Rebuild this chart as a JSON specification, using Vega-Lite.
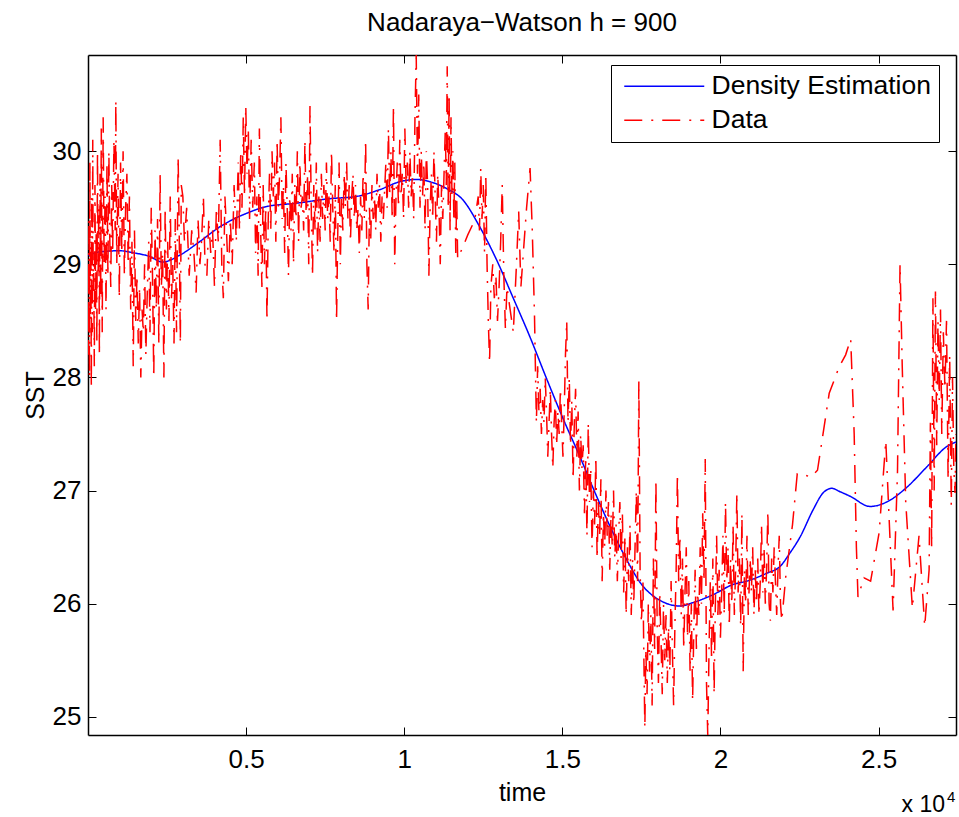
{
"$schema": "https://vega.github.io/schema/vega-lite/v6.json",
"width": 868, "height": 680,
"autosize": {"type": "none"},
"padding": {"left": 88, "top": 55, "right": 3, "bottom": 82},
"background": "white",
"title": {"text": "Nadaraya−Watson h = 900", "font": "Liberation Sans", "fontSize": 26, "fontWeight": "normal", "color": "black", "offset": 19, "anchor": "middle"},
"config": {
 "view": {"stroke": null},
 "axis": {"labelFont": "Liberation Sans", "titleFont": "Liberation Sans", "labelFontSize": 26, "titleFontSize": 25, "labelColor": "black", "titleColor": "black", "titleFontWeight": "normal", "domainColor": "black", "domainWidth": 1.5, "tickColor": "black", "tickWidth": 1, "tickSize": -8, "grid": false}
},
"datasets": {
 "curve": [
  {"t":0,"v":29.08},{"t":364,"v":29.11},{"t":997,"v":29.12},{"t":1472,"v":29.10},{"t":1946,"v":29.07},{"t":2358,"v":29.02},{"t":2896,"v":29.08},{"t":3529,"v":29.20},{"t":4162,"v":29.33},{"t":5007,"v":29.45},{"t":5640,"v":29.51},{"t":6590,"v":29.54},{"t":7643,"v":29.58},{"t":8488,"v":29.60},{"t":9226,"v":29.66},{"t":9859,"v":29.73},{"t":10388,"v":29.75},{"t":10808,"v":29.73},{"t":11337,"v":29.67},{"t":11853,"v":29.57},{"t":12392,"v":29.33},{"t":12920,"v":29.04},{"t":13435,"v":28.71},{"t":13974,"v":28.36},{"t":14502,"v":27.99},{"t":15018,"v":27.64},{"t":15556,"v":27.30},{"t":16084,"v":26.95},{"t":16600,"v":26.63},{"t":17034,"v":26.39},{"t":17455,"v":26.19},{"t":18088,"v":26.03},{"t":18721,"v":25.98},{"t":19132,"v":26.01},{"t":19765,"v":26.08},{"t":20398,"v":26.17},{"t":20832,"v":26.20},{"t":21465,"v":26.27},{"t":21886,"v":26.33},{"t":22202,"v":26.45},{"t":22519,"v":26.59},{"t":22930,"v":26.83},{"t":23247,"v":26.98},{"t":23522,"v":27.02},{"t":23785,"v":26.99},{"t":24102,"v":26.95},{"t":24735,"v":26.86},{"t":25263,"v":26.90},{"t":25896,"v":27.03},{"t":26529,"v":27.21},{"t":27162,"v":27.39},{"t":27450,"v":27.43}
 ],
 "obs": [
  {"t":0,"v":28.9},{"t":15,"v":28.2},{"t":30,"v":29.4},{"t":45,"v":28.0},{"t":60,"v":29.9},{"t":75,"v":28.5},{"t":90,"v":29.2},{"t":105,"v":27.9},{"t":120,"v":29.6},{"t":135,"v":28.4},{"t":150,"v":30.1},{"t":165,"v":28.8},{"t":180,"v":29.0},{"t":200,"v":28.1},{"t":220,"v":29.7},{"t":240,"v":28.6},{"t":260,"v":29.3},{"t":280,"v":28.3},{"t":300,"v":30.0},{"t":320,"v":28.9},{"t":340,"v":29.5},{"t":360,"v":28.2},{"t":380,"v":29.8},{"t":400,"v":28.7},{"t":420,"v":30.2},
  {"t":450,"v":28.4},{"t":480,"v":30.3},{"t":510,"v":29.0},{"t":540,"v":29.6},{"t":570,"v":28.6},{"t":600,"v":29.9},{"t":630,"v":28.9},{"t":660,"v":30.0},{"t":690,"v":29.2},{"t":720,"v":28.8},{"t":750,"v":29.7},{"t":780,"v":29.1},{"t":820,"v":30.1},{"t":860,"v":29.3},{"t":880,"v":30.45},{"t":910,"v":29.0},
  {"t":950,"v":29.8},{"t":990,"v":28.7},{"t":1030,"v":29.9},{"t":1070,"v":29.1},{"t":1110,"v":30.0},{"t":1150,"v":28.9},{"t":1190,"v":29.5},{"t":1230,"v":29.8},{"t":1270,"v":29.0},{"t":1310,"v":29.6},{"t":1350,"v":28.6},{"t":1390,"v":29.2},
  {"t":1430,"v":28.1},{"t":1470,"v":29.3},{"t":1510,"v":28.5},{"t":1550,"v":28.9},{"t":1590,"v":28.3},{"t":1630,"v":28.8},{"t":1670,"v":28.0},{"t":1710,"v":28.6},{"t":1750,"v":28.4},{"t":1790,"v":29.0},{"t":1830,"v":28.2},{"t":1870,"v":28.7},
  {"t":1920,"v":29.2},{"t":1960,"v":28.4},{"t":2000,"v":29.5},{"t":2040,"v":28.9},{"t":2080,"v":28.0},{"t":2120,"v":29.3},{"t":2160,"v":28.6},{"t":2200,"v":29.4},{"t":2240,"v":28.3},{"t":2280,"v":29.8},{"t":2320,"v":28.8},{"t":2360,"v":29.1},{"t":2400,"v":28.0},{"t":2440,"v":29.5},{"t":2480,"v":28.6},{"t":2520,"v":29.2},{"t":2560,"v":28.5},{"t":2600,"v":29.6},{"t":2640,"v":28.7},{"t":2680,"v":29.0},{"t":2720,"v":28.3},{"t":2760,"v":29.4},{"t":2800,"v":28.4},{"t":2850,"v":29.95},
  {"t":2880,"v":29.4},{"t":2920,"v":28.3},{"t":2950,"v":29.7},
  {"t":3000,"v":29.6},{"t":3050,"v":29.2},{"t":3120,"v":29.5},{"t":3200,"v":28.9},{"t":3280,"v":29.3},{"t":3350,"v":29.1},{"t":3420,"v":28.75},{"t":3480,"v":29.4},{"t":3540,"v":29.0},{"t":3590,"v":29.2},
  {"t":3650,"v":29.6},{"t":3700,"v":29.0},{"t":3760,"v":28.9},{"t":3820,"v":29.4},{"t":3880,"v":29.1},{"t":3940,"v":29.3},{"t":4000,"v":28.8},{"t":4060,"v":29.5},{"t":4120,"v":29.2},{"t":4180,"v":30.1},{"t":4230,"v":29.0},{"t":4280,"v":28.7},{"t":4330,"v":29.6},{"t":4380,"v":29.3},{"t":4440,"v":28.85},{"t":4500,"v":29.4},{"t":4560,"v":29.0},{"t":4620,"v":29.7},{"t":4690,"v":29.2},{"t":4750,"v":29.9},
  {"t":4790,"v":29.3},{"t":4830,"v":30.0},{"t":4870,"v":29.5},{"t":4910,"v":30.3},{"t":4950,"v":29.6},{"t":4990,"v":30.4},{"t":5030,"v":29.8},{"t":5070,"v":30.2},{"t":5110,"v":29.4},{"t":5160,"v":30.1},{"t":5210,"v":29.5},{"t":5260,"v":29.9},
  {"t":5300,"v":29.1},{"t":5340,"v":29.6},{"t":5380,"v":28.9},{"t":5420,"v":30.2},{"t":5460,"v":29.3},{"t":5500,"v":28.8},{"t":5540,"v":29.7},{"t":5580,"v":29.0},{"t":5620,"v":29.5},{"t":5660,"v":28.5},{"t":5700,"v":29.4},
  {"t":5740,"v":29.8},{"t":5780,"v":29.3},{"t":5820,"v":30.0},{"t":5860,"v":29.6},{"t":5900,"v":29.9},{"t":5940,"v":29.2},{"t":5980,"v":30.1},{"t":6020,"v":29.5},{"t":6060,"v":29.8},{"t":6100,"v":30.3},{"t":6140,"v":29.4},{"t":6180,"v":29.7},{"t":6220,"v":29.1},{"t":6260,"v":29.9},{"t":6300,"v":29.5},{"t":6340,"v":28.9},{"t":6380,"v":29.6},{"t":6420,"v":29.3},{"t":6460,"v":29.8},{"t":6500,"v":29.0},{"t":6540,"v":29.7},{"t":6580,"v":29.4},{"t":6620,"v":30.0},{"t":6660,"v":29.2},{"t":6700,"v":29.9},{"t":6740,"v":29.5},{"t":6780,"v":29.6},{"t":6820,"v":29.3},{"t":6860,"v":30.1},
  {"t":6900,"v":29.4},{"t":6940,"v":29.8},{"t":6980,"v":29.0},{"t":7020,"v":30.4},{"t":7060,"v":29.5},{"t":7100,"v":28.9},{"t":7140,"v":29.7},{"t":7180,"v":29.3},{"t":7220,"v":29.9},{"t":7260,"v":29.1},{"t":7300,"v":29.6},{"t":7340,"v":29.2},{"t":7380,"v":29.8},{"t":7420,"v":29.4},{"t":7460,"v":29.7},
  {"t":7500,"v":29.3},{"t":7540,"v":29.9},{"t":7580,"v":29.4},{"t":7620,"v":29.6},{"t":7660,"v":29.2},{"t":7700,"v":30.0},{"t":7740,"v":29.5},{"t":7780,"v":29.1},{"t":7820,"v":29.7},{"t":7860,"v":28.5},{"t":7900,"v":29.3},{"t":7940,"v":29.9},{"t":7980,"v":29.0},{"t":8020,"v":29.6},{"t":8060,"v":29.3},{"t":8100,"v":29.8},{"t":8140,"v":29.5},{"t":8180,"v":29.9},{"t":8220,"v":29.4},{"t":8260,"v":29.7},{"t":8300,"v":29.2},{"t":8340,"v":29.6},{"t":8380,"v":29.8},{"t":8420,"v":29.4},{"t":8460,"v":29.7},{"t":8500,"v":29.3},{"t":8540,"v":29.5},{"t":8580,"v":29.1},{"t":8620,"v":29.6},
  {"t":8660,"v":29.3},{"t":8700,"v":29.8},{"t":8740,"v":29.4},{"t":8780,"v":30.1},{"t":8820,"v":29.0},{"t":8860,"v":28.6},{"t":8900,"v":29.5},{"t":8940,"v":29.2},{"t":8980,"v":29.7},{"t":9020,"v":29.4},{"t":9060,"v":29.6},{"t":9100,"v":29.3},{"t":9140,"v":29.8},{"t":9180,"v":29.5},{"t":9220,"v":29.7},{"t":9260,"v":29.2},{"t":9300,"v":29.6},{"t":9340,"v":29.4},
  {"t":9420,"v":29.9},{"t":9460,"v":29.5},{"t":9500,"v":30.2},{"t":9540,"v":29.6},{"t":9580,"v":30.0},{"t":9620,"v":29.4},{"t":9660,"v":30.4},{"t":9700,"v":29.0},{"t":9740,"v":29.6},{"t":9780,"v":29.9},{"t":9820,"v":29.5},{"t":9860,"v":30.1},{"t":9900,"v":29.6},{"t":9940,"v":29.8},{"t":9980,"v":29.4},{"t":10020,"v":30.2},{"t":10060,"v":29.7},{"t":10100,"v":29.9},{"t":10140,"v":29.5},{"t":10180,"v":30.0},{"t":10220,"v":29.6},{"t":10260,"v":29.8},{"t":10300,"v":29.4},
  {"t":10340,"v":30.3},{"t":10380,"v":30.85},{"t":10420,"v":29.8},{"t":10460,"v":30.5},{"t":10500,"v":29.5},{"t":10540,"v":30.0},
  {"t":10580,"v":29.6},{"t":10620,"v":29.9},{"t":10660,"v":29.3},{"t":10700,"v":30.0},{"t":10740,"v":29.7},{"t":10780,"v":28.9},{"t":10820,"v":29.5},{"t":10860,"v":29.8},{"t":10900,"v":29.4},{"t":10940,"v":30.0},{"t":10980,"v":29.6},{"t":11020,"v":29.2},{"t":11060,"v":29.8},{"t":11100,"v":29.5},{"t":11140,"v":29.0},{"t":11180,"v":29.7},{"t":11220,"v":29.4},{"t":11260,"v":29.8},
  {"t":11300,"v":30.2},{"t":11330,"v":29.7},{"t":11360,"v":30.75},{"t":11390,"v":29.5},{"t":11420,"v":30.5},{"t":11450,"v":29.3},{"t":11480,"v":30.3},{"t":11510,"v":29.6},{"t":11540,"v":30.0},{"t":11570,"v":29.4},{"t":11600,"v":29.9},{"t":11630,"v":29.1},{"t":11660,"v":29.6},{"t":11690,"v":29.05},
  {"t":11850,"v":29.15},{"t":12010,"v":29.26},{"t":12230,"v":29.39},
  {"t":12340,"v":29.6},{"t":12380,"v":29.3},{"t":12420,"v":29.85},{"t":12460,"v":29.4},{"t":12500,"v":29.7},{"t":12540,"v":29.1},{"t":12580,"v":29.8},{"t":12620,"v":29.0},{"t":12660,"v":28.5},{"t":12700,"v":28.13},{"t":12740,"v":28.8},
  {"t":12800,"v":29.0},{"t":12850,"v":28.7},{"t":12900,"v":28.9},{"t":12950,"v":28.5},{"t":13000,"v":28.8},{"t":13050,"v":29.2},{"t":13100,"v":29.7},{"t":13150,"v":28.9},{"t":13200,"v":28.43},{"t":13250,"v":28.8},
  {"t":13350,"v":28.6},{"t":13450,"v":28.4},{"t":13550,"v":29.0},{"t":13620,"v":29.47},{"t":13690,"v":28.8},
  {"t":13870,"v":29.5},{"t":13980,"v":29.85},{"t":14050,"v":29.3},{"t":14120,"v":28.55},
  {"t":14180,"v":27.6},{"t":14220,"v":28.1},{"t":14260,"v":27.7},{"t":14300,"v":27.9},{"t":14340,"v":27.5},{"t":14380,"v":27.8},{"t":14420,"v":27.6},{"t":14460,"v":28.0},{"t":14500,"v":27.7},{"t":14540,"v":27.3},{"t":14580,"v":27.6},{"t":14620,"v":27.9},{"t":14660,"v":27.5},{"t":14700,"v":27.2},{"t":14740,"v":27.6},{"t":14780,"v":27.8},{"t":14820,"v":27.4},{"t":14860,"v":27.7},{"t":14900,"v":27.5},{"t":14940,"v":27.9},{"t":14980,"v":27.6},{"t":15020,"v":27.3},{"t":15060,"v":27.7},
  {"t":15100,"v":28.2},{"t":15140,"v":28.5},{"t":15180,"v":27.6},{"t":15220,"v":28.0},{"t":15260,"v":27.4},{"t":15300,"v":27.8},{"t":15340,"v":27.1},{"t":15380,"v":27.6},{"t":15420,"v":27.9},{"t":15460,"v":27.3},{"t":15500,"v":27.7},{"t":15540,"v":27.0},{"t":15580,"v":27.5},{"t":15620,"v":27.2},
  {"t":15660,"v":27.4},{"t":15700,"v":26.8},{"t":15740,"v":27.3},{"t":15780,"v":26.6},{"t":15820,"v":27.6},{"t":15860,"v":26.9},{"t":15900,"v":27.2},{"t":15940,"v":26.5},{"t":15980,"v":27.0},{"t":16020,"v":26.7},{"t":16060,"v":27.3},{"t":16100,"v":26.4},{"t":16140,"v":26.9},{"t":16180,"v":26.6},{"t":16220,"v":27.1},{"t":16260,"v":26.2},{"t":16300,"v":26.8},{"t":16340,"v":26.5},{"t":16380,"v":27.0},{"t":16420,"v":26.6},{"t":16460,"v":26.9},{"t":16500,"v":26.3},{"t":16540,"v":26.8},{"t":16580,"v":26.5},{"t":16620,"v":27.0},{"t":16660,"v":26.4},{"t":16700,"v":26.7},{"t":16740,"v":26.2},{"t":16780,"v":26.6},{"t":16820,"v":26.9},{"t":16860,"v":26.4},
  {"t":16900,"v":26.8},{"t":16940,"v":26.1},{"t":16980,"v":26.6},{"t":17020,"v":25.9},{"t":17060,"v":26.5},{"t":17100,"v":26.2},{"t":17140,"v":26.7},{"t":17180,"v":25.9},{"t":17220,"v":26.4},{"t":17260,"v":26.0},{"t":17300,"v":26.5},{"t":17340,"v":27.0},{"t":17380,"v":26.2},{"t":17420,"v":27.97},{"t":17460,"v":26.3},{"t":17500,"v":25.83},
  {"t":17550,"v":26.2},{"t":17580,"v":25.5},{"t":17610,"v":24.9},{"t":17640,"v":25.6},{"t":17680,"v":25.2},{"t":17720,"v":26.0},{"t":17760,"v":25.4},{"t":17800,"v":25.9},{"t":17840,"v":25.1},{"t":17880,"v":26.4},{"t":17920,"v":25.6},{"t":17960,"v":27.1},{"t":18000,"v":25.8},{"t":18040,"v":25.3},{"t":18080,"v":26.1},{"t":18120,"v":25.7},{"t":18160,"v":25.2},{"t":18200,"v":26.0},{"t":18240,"v":25.5},{"t":18280,"v":25.9},{"t":18320,"v":25.3},{"t":18360,"v":25.8},{"t":18400,"v":25.4},{"t":18440,"v":26.2},{"t":18480,"v":25.6},{"t":18520,"v":25.1},{"t":18560,"v":25.8},
  {"t":18600,"v":26.3},{"t":18640,"v":27.15},{"t":18680,"v":26.2},{"t":18720,"v":26.6},{"t":18760,"v":25.9},{"t":18800,"v":26.4},{"t":18840,"v":25.6},{"t":18880,"v":26.1},{"t":18920,"v":26.5},{"t":18960,"v":25.7},{"t":19000,"v":26.2},{"t":19040,"v":25.4},{"t":19080,"v":26.0},{"t":19120,"v":25.14},{"t":19160,"v":25.8},{"t":19200,"v":26.3},{"t":19240,"v":25.6},{"t":19280,"v":26.1},
  {"t":19320,"v":25.9},{"t":19360,"v":26.5},{"t":19400,"v":26.0},{"t":19440,"v":26.8},{"t":19480,"v":26.2},{"t":19520,"v":27.28},{"t":19560,"v":25.3},{"t":19600,"v":24.83},{"t":19640,"v":25.6},{"t":19680,"v":26.2},{"t":19720,"v":25.5},{"t":19760,"v":26.4},{"t":19800,"v":25.2},{"t":19840,"v":26.0},{"t":19880,"v":26.6},{"t":19920,"v":25.9},{"t":19960,"v":26.3},{"t":20000,"v":25.7},{"t":20040,"v":26.1},
  {"t":20080,"v":26.6},{"t":20120,"v":25.9},{"t":20160,"v":26.9},{"t":20200,"v":26.2},{"t":20240,"v":26.5},{"t":20280,"v":25.8},{"t":20320,"v":26.4},{"t":20360,"v":26.0},{"t":20400,"v":26.7},{"t":20440,"v":25.9},{"t":20480,"v":26.3},{"t":20520,"v":26.98},{"t":20560,"v":26.1},{"t":20600,"v":26.4},
  {"t":20640,"v":25.8},{"t":20680,"v":26.8},{"t":20720,"v":25.4},{"t":20760,"v":26.3},{"t":20800,"v":26.0},{"t":20840,"v":26.6},{"t":20880,"v":25.9},
  {"t":20940,"v":26.4},{"t":20980,"v":26.1},{"t":21020,"v":26.5},{"t":21060,"v":25.9},{"t":21100,"v":26.3},{"t":21140,"v":26.0},{"t":21180,"v":26.4},{"t":21220,"v":25.9},{"t":21260,"v":26.2},{"t":21300,"v":26.7},{"t":21340,"v":26.1},{"t":21380,"v":26.5},{"t":21420,"v":26.0},{"t":21460,"v":26.3},{"t":21500,"v":26.82},{"t":21540,"v":26.0},{"t":21580,"v":25.85},{"t":21620,"v":26.4},{"t":21660,"v":26.1},{"t":21700,"v":26.5},{"t":21740,"v":26.2},{"t":21780,"v":25.9},{"t":21820,"v":26.3},{"t":21860,"v":26.6},{"t":21900,"v":26.0},{"t":21940,"v":25.85},
  {"t":22070,"v":26.25},{"t":22280,"v":26.7},{"t":22430,"v":27.15},{"t":22540,"v":27.15},{"t":22860,"v":27.12},{"t":23070,"v":27.18},
  {"t":23440,"v":27.86},{"t":23750,"v":28.09},{"t":23960,"v":28.2},{"t":24120,"v":28.34},
  {"t":24230,"v":27.5},{"t":24300,"v":26.5},{"t":24350,"v":26.06},
  {"t":24540,"v":26.23},{"t":24750,"v":26.2},{"t":25020,"v":26.63},{"t":25230,"v":27.44},
  {"t":25460,"v":25.94},{"t":25600,"v":27.17},{"t":25680,"v":29.0},{"t":25750,"v":28.1},
  {"t":25860,"v":26.9},{"t":26070,"v":25.96},{"t":26280,"v":26.6},{"t":26460,"v":25.8},
  {"t":26600,"v":26.3},{"t":26640,"v":27.6},{"t":26680,"v":26.5},{"t":26720,"v":28.7},{"t":26760,"v":27.0},{"t":26800,"v":28.76},{"t":26840,"v":27.4},{"t":26880,"v":28.5},{"t":26920,"v":27.8},{"t":26960,"v":28.6},{"t":27000,"v":27.5},{"t":27050,"v":28.4},{"t":27100,"v":27.9},{"t":27150,"v":28.5},{"t":27200,"v":27.1},{"t":27250,"v":28.2},{"t":27300,"v":26.87},{"t":27340,"v":28.0},{"t":27380,"v":27.2},{"t":27420,"v":26.98},{"t":27450,"v":27.5}
 ]
},
"layer": [
 {
  "data": {"name": "curve"},
  "mark": {"type": "line", "strokeWidth": 1.5, "clip": true, "interpolate": "monotone"},
  "encoding": {
   "x": {"field": "t", "type": "quantitative", "scale": {"domain": [0, 27450], "nice": false, "zero": false},
         "axis": {"orient": "bottom", "title": "time", "values": [5000, 10000, 15000, 20000, 25000], "labelExpr": "toString(datum.value / 10000)", "labelPadding": 19, "titlePadding": 8}},
   "y": {"field": "v", "type": "quantitative", "scale": {"domain": [24.84, 30.85], "nice": false, "zero": false},
         "axis": {"orient": "left", "title": "SST", "values": [25, 26, 27, 28, 29, 30], "format": "d", "labelPadding": 15, "titlePadding": 4}},
   "color": {"datum": "Density Estimation", "type": "nominal",
             "scale": {"domain": ["Density Estimation", "Data"], "range": ["#0000ff", "#ff0000"]},
             "legend": {"title": null, "orient": "none", "legendX": 523, "legendY": 10, "strokeColor": "black", "fillColor": "white", "padding": 8, "labelFont": "Liberation Sans", "labelFontSize": 26.5, "labelColor": "black", "labelLimit": 500, "symbolType": "M0,0H16", "symbolSize": 100, "symbolStrokeWidth": 1.5, "symbolOffset": -8, "labelOffset": 74, "rowPadding": 7}},
   "strokeDash": {"datum": "Density Estimation", "type": "nominal",
             "scale": {"domain": ["Density Estimation", "Data"], "range": [[1, 0], [18, 9, 2, 9]]},
             "legend": {"title": null, "orient": "none", "legendX": 523, "legendY": 10, "strokeColor": "black", "fillColor": "white", "padding": 8, "labelFont": "Liberation Sans", "labelFontSize": 26.5, "labelColor": "black", "labelLimit": 500, "symbolType": "M0,0H16", "symbolSize": 100, "symbolStrokeWidth": 1.5, "symbolOffset": -8, "labelOffset": 74, "rowPadding": 7}}
  }
 },
 {
  "data": {"name": "obs"},
  "mark": {"type": "line", "strokeWidth": 1.5, "clip": true},
  "encoding": {
   "x": {"field": "t", "type": "quantitative", "axis": null},
   "y": {"field": "v", "type": "quantitative", "axis": null},
   "color": {"datum": "Data", "type": "nominal"},
   "strokeDash": {"datum": "Data", "type": "nominal"}
  }
 },
 {
  "data": {"name": "curve"},
  "mark": {"type": "line", "opacity": 0},
  "encoding": {
   "x": {"field": "t", "type": "quantitative", "axis": {"orient": "top", "labels": false, "title": null, "values": [5000, 10000, 15000, 20000, 25000]}},
   "y": {"field": "v", "type": "quantitative", "axis": {"orient": "right", "labels": false, "title": null, "values": [25, 26, 27, 28, 29, 30]}}
  }
 },
 {
  "data": {"values": [{}]},
  "mark": {"type": "text", "text": "x 10", "align": "right", "baseline": "alphabetic", "dx": -11, "dy": 77, "font": "Liberation Sans", "fontSize": 23, "color": "black"},
  "encoding": {
   "x": {"datum": 27450, "type": "quantitative", "axis": null},
   "y": {"datum": 24.84, "type": "quantitative", "axis": null}
  }
 },
 {
  "data": {"values": [{}]},
  "mark": {"type": "text", "text": "4", "align": "left", "baseline": "alphabetic", "dx": -9, "dy": 67, "font": "Liberation Sans", "fontSize": 15, "color": "black"},
  "encoding": {
   "x": {"datum": 27450, "type": "quantitative", "axis": null},
   "y": {"datum": 24.84, "type": "quantitative", "axis": null}
  }
 }
],
"resolve": {"axis": {"x": "independent", "y": "independent"}}
}
